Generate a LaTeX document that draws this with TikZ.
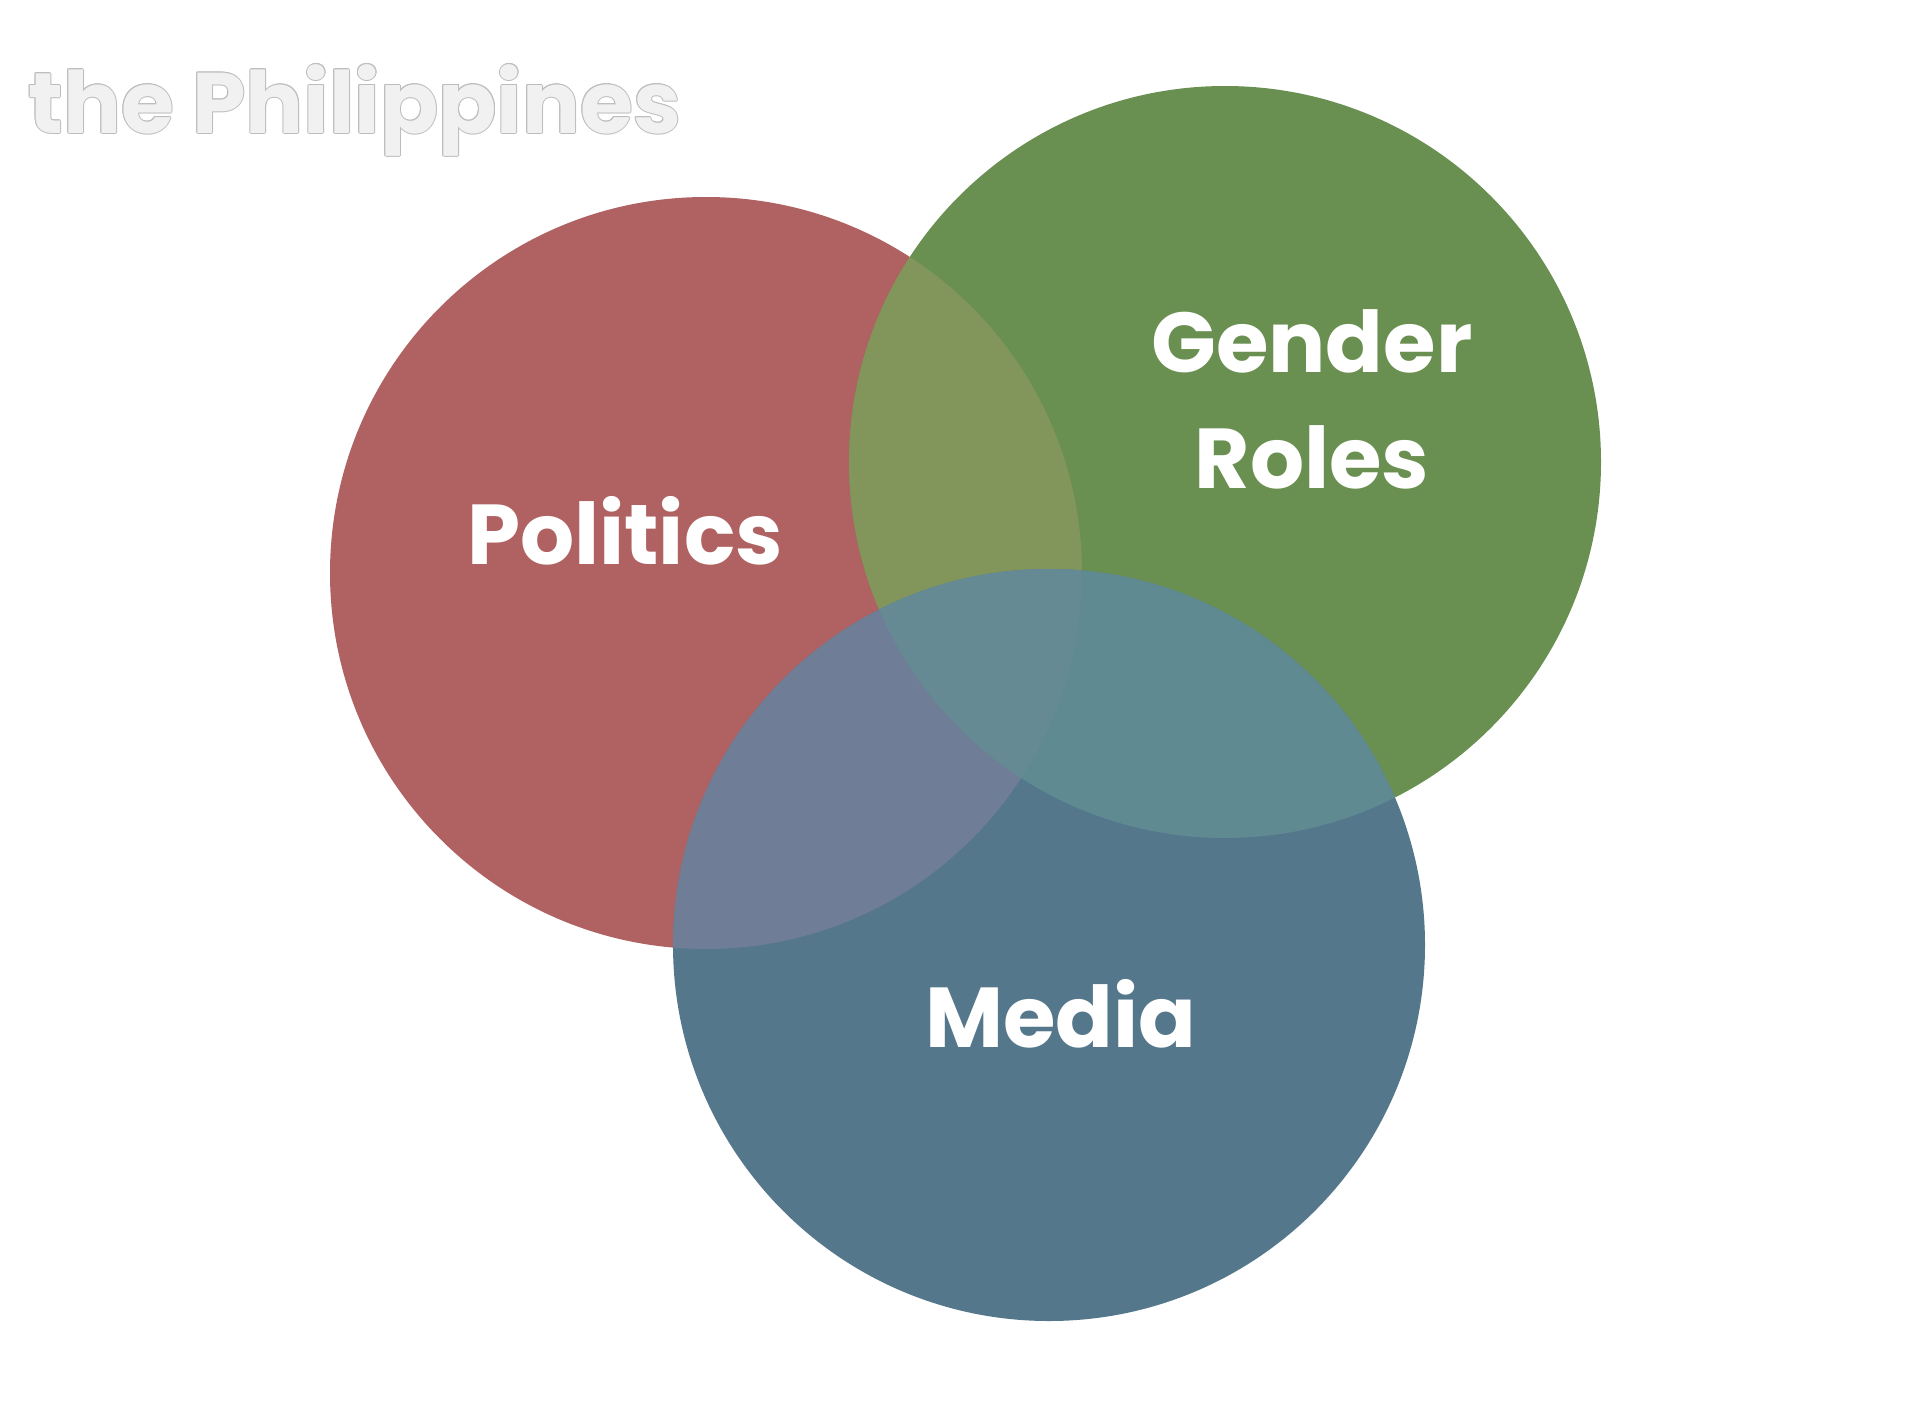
\documentclass[tikz,border=0pt]{standalone}
\usepackage{fontspec}
\setmainfont{Poppins}
\definecolor{polc}{HTML}{AF6261}
\definecolor{genc}{HTML}{6A9051}
\definecolor{medc}{HTML}{54778C}
\definecolor{pgc}{HTML}{82955B}
\definecolor{pmc}{HTML}{6F7E96}
\definecolor{gmc}{HTML}{5F8A91}
\definecolor{allc}{HTML}{658A93}
\definecolor{titlefill}{HTML}{F1F1F1}
\definecolor{titleline}{HTML}{BDBDBD}
\tikzset{
  lbl/.style={anchor=base, text=white, font=\fontsize{85}{100}\selectfont\bfseries, inner sep=0pt},
  ttl/.style={anchor=base west, font=\fontsize{86}{96}\selectfont\bfseries, inner sep=0pt}
}
\newcommand{\polpath}{(706,573) circle[radius=376]}
\newcommand{\genpath}{(1225,462) circle[radius=376]}
\newcommand{\medpath}{(1049,945) circle[radius=376]}
\begin{document}
\begin{tikzpicture}[x=1pt,y=-1pt]
\useasboundingbox[fill=white] (0,0) rectangle (1932,1408);
% title with thin outline
\foreach \dx/\dy in {-1/0,1/0,0/-1,0/1,-0.7/-0.7,0.7/0.7,-0.7/0.7,0.7/-0.7}{
  \node[ttl, text=titleline] (t\dx\dy) at (28+\dx,133+\dy) {the Philippines};
}
\node[ttl, text=titlefill] (title) at (28,133) {the Philippines};
% circles
\fill[polc] \polpath;
\fill[genc] \genpath;
\fill[medc] \medpath;
\begin{scope}
  \clip \polpath;
  \fill[pgc] \genpath;
\end{scope}
\begin{scope}
  \clip \polpath;
  \fill[pmc] \medpath;
\end{scope}
\begin{scope}
  \clip \genpath;
  \fill[gmc] \medpath;
\end{scope}
\begin{scope}
  \clip \polpath;
  \clip \genpath;
  \fill[allc] \medpath;
\end{scope}
% labels
\node[lbl] (politics) at (625,564) {Politics};
\node[lbl] (gender) at (1312,372) {Gender};
\node[lbl] (roles) at (1312,488) {Roles};
\node[lbl] (media) at (1061,1047) {Media};
\end{tikzpicture}
\end{document}
